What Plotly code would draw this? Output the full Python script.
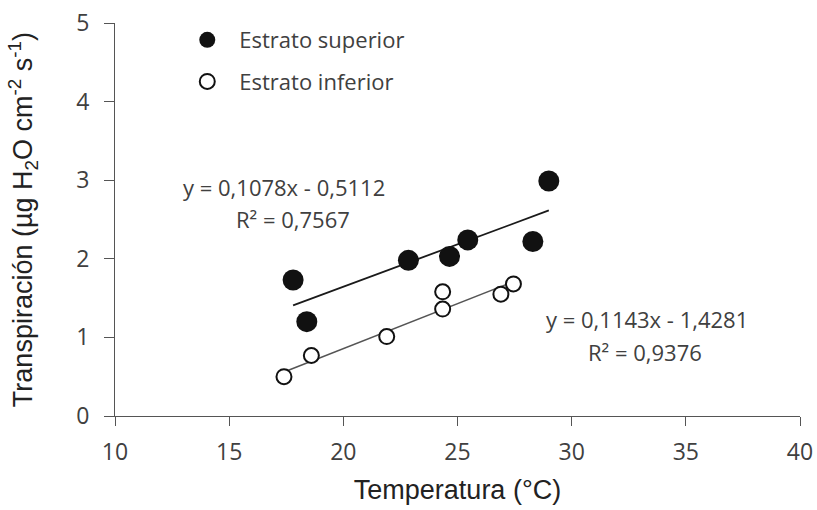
import plotly.graph_objects as go
import numpy as np

# Data
sup_x = [17.8, 18.4, 22.85, 24.65, 25.45, 28.3, 29.0]
sup_y = [1.73, 1.20, 1.98, 2.03, 2.24, 2.22, 2.99]
inf_x = [17.4, 18.6, 21.9, 24.35, 24.35, 26.9, 27.45]
inf_y = [0.50, 0.77, 1.01, 1.58, 1.36, 1.55, 1.68]

sup_fit = (0.1078, -0.5112)
inf_fit = (0.1143, -1.4281)

x_ticks = [10, 15, 20, 25, 30, 35, 40]
y_ticks = [0, 1, 2, 3, 4, 5]

FONT_NUM = "Open Sans"
FONT_TITLE = "Liberation Sans"
TXT = "#404040"

fig = go.Figure()

def fit_line(xs, fit):
    xx = np.array([min(xs), max(xs)])
    return xx, fit[0] * xx + fit[1]

lx, ly = fit_line(sup_x, sup_fit)
fig.add_trace(go.Scatter(x=lx, y=ly, mode="lines", line=dict(color="#1a1a1a", width=1.8),
                         showlegend=False, hoverinfo="skip"))
lx, ly = fit_line(inf_x, inf_fit)
fig.add_trace(go.Scatter(x=lx, y=ly, mode="lines", line=dict(color="#555555", width=1.6),
                         showlegend=False, hoverinfo="skip"))

fig.add_trace(go.Scatter(x=sup_x, y=sup_y, mode="markers", name="Estrato superior",
                         legendgroup="a",
                         marker=dict(symbol="circle", size=21, color="#111111",
                                     line=dict(width=0))))
fig.add_trace(go.Scatter(x=inf_x, y=inf_y, mode="markers", name="Estrato inferior",
                         legendgroup="b",
                         marker=dict(symbol="circle", size=15, color="white",
                                     line=dict(width=2, color="#111111"))))

ann_font = dict(family=FONT_NUM, size=22, color=TXT)
for txt, x, y in [
    ("y = 0,1078x - 0,5112", 17.40, 2.91),
    ("R² = 0,7567", 17.80, 2.51),
    ("y = 0,1143x - 1,4281", 33.32, 1.23),
    ("R² = 0,9376", 33.21, 0.81),
]:
    fig.add_annotation(x=x, y=y, text=txt, showarrow=False, font=ann_font,
                       xanchor="center", yanchor="middle")

fig.update_layout(
    width=817, height=510,
    margin=dict(l=115, r=17, t=23, b=94),
    paper_bgcolor="white", plot_bgcolor="white",
    showlegend=True,
    legend=dict(x=0.088, y=1.01, xanchor="left", yanchor="top",
                font=dict(family=FONT_NUM, size=22, color=TXT),
                bgcolor="rgba(0,0,0,0)", traceorder="grouped", tracegroupgap=10,
                itemwidth=54),
    xaxis=dict(range=[10, 40], tickvals=x_ticks, ticktext=[str(v) for v in x_ticks],
               automargin=False, ticklabeloverflow="allow",
               showgrid=False, zeroline=False, showline=True, linecolor="#555555",
               linewidth=1.2, ticks="outside", ticklen=9, tickcolor="#555555",
               ticklabelstandoff=6,
               tickfont=dict(family=FONT_NUM, size=23, color=TXT),
               title=dict(text="Temperatura (°C)", standoff=14,
                          font=dict(family=FONT_TITLE, size=27, color="#222222"))),
    yaxis=dict(range=[0, 5], tickvals=y_ticks, ticktext=[str(v) for v in y_ticks],
               automargin=False, ticklabeloverflow="allow",
               showgrid=False, zeroline=False, showline=True, linecolor="#555555",
               linewidth=1.2, ticks="outside", ticklen=10, tickcolor="#555555",
               ticklabelstandoff=10,
               tickfont=dict(family=FONT_NUM, size=23, color=TXT),
               title=dict(text="Transpiración (µg H<sub>2</sub>O cm<sup>-2</sup> s<sup>-1</sup>)",
                          standoff=35,
                          font=dict(family=FONT_TITLE, size=27, color="#222222"))),
)

# Remove the browser's default page margin so the figure fills the window exactly.
fig.write_html("out.html",
               config={"displayModeBar": False},
               post_script="document.body.style.margin='0';document.body.style.overflow='hidden';")
